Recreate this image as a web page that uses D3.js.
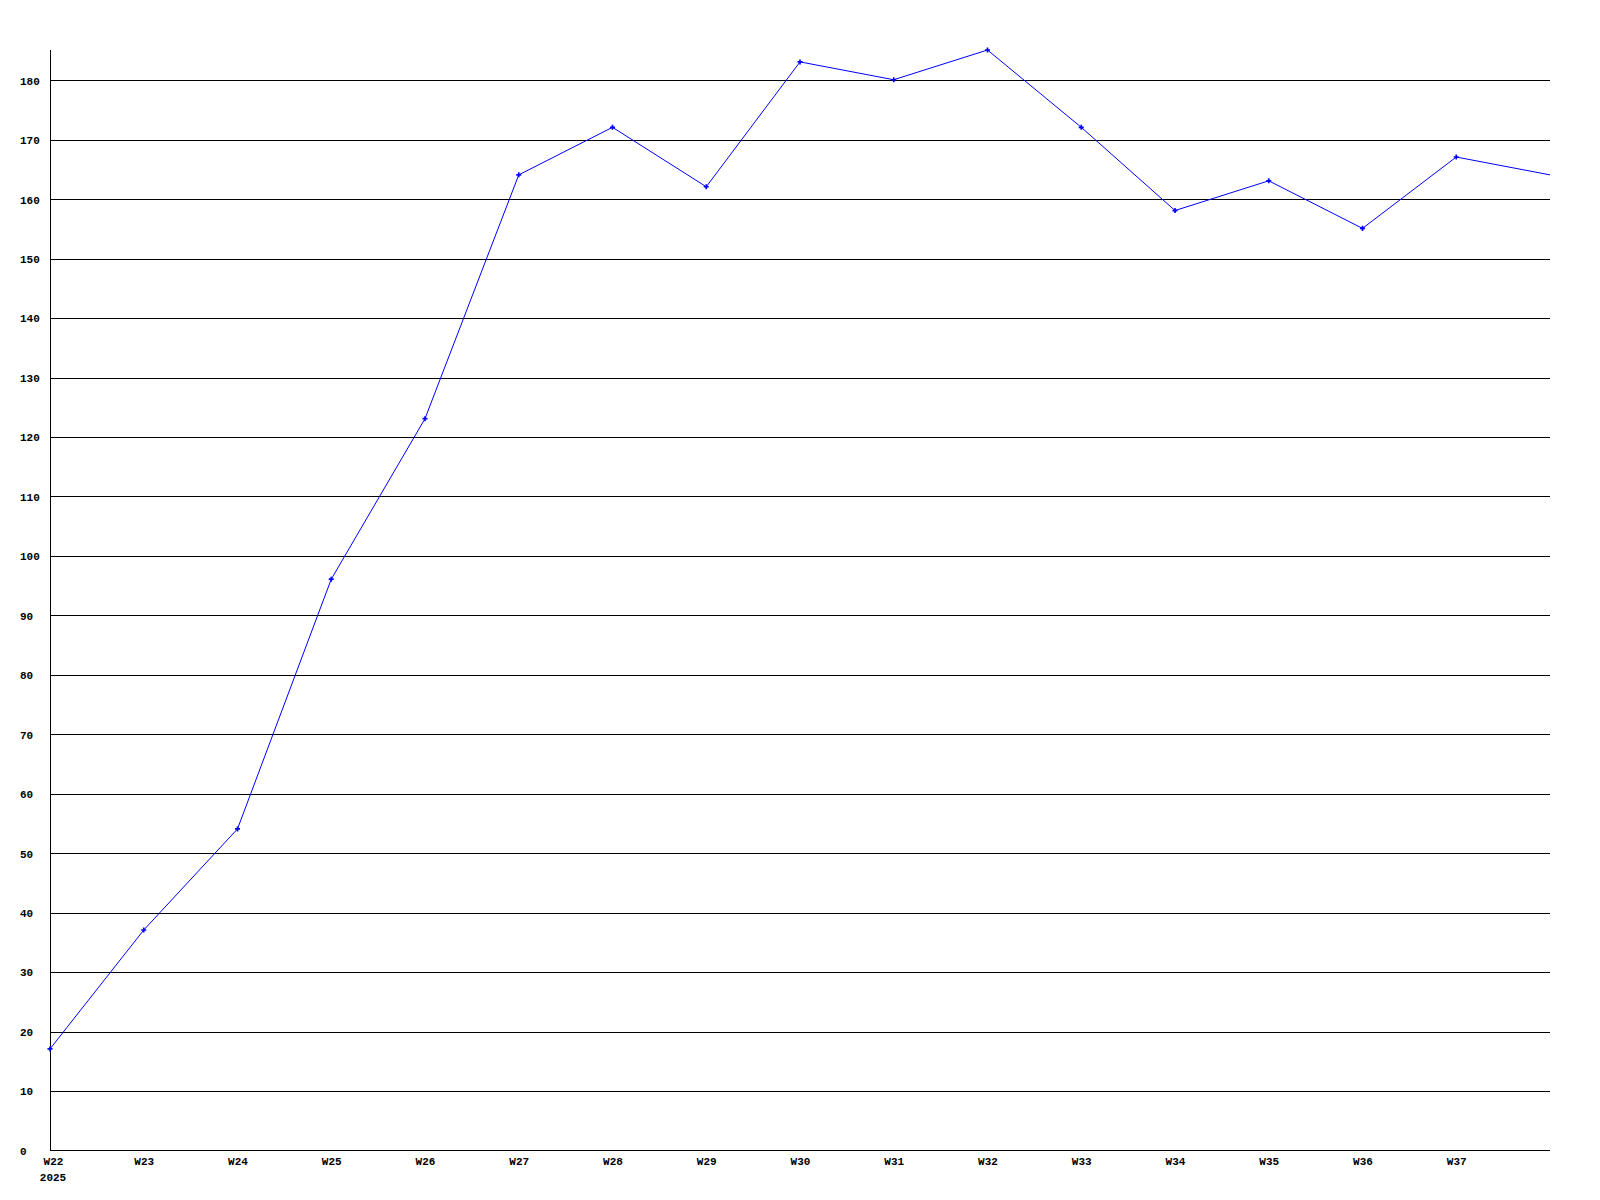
<!doctype html>
<html lang="en">
<head>
	<meta charset="UTF-8">
	<script src="https://cdn.jsdelivr.net/npm/d3@7"></script>
	<style>
	body{
		padding:0px;
		margin:0px;
		background:#fff;
	}
	text{
		font-family:"Liberation Mono","DejaVu Sans Mono",monospace;
		font-weight:bold;
		font-size:11px;
		fill:#000;
	}
	</style>
</head>
<body>
	<svg id="chartSvg"></svg>
	<script>
	// weekly values
	var weeks = ["W22","W23","W24","W25","W26","W27","W28","W29","W30","W31","W32","W33","W34","W35","W36","W37","W38"];
	var values = [17,37,54,96,123,164,172,162,183,180,185,172,158,163,155,167,164];
	var yTicks = [0,10,20,30,40,50,60,70,80,90,100,110,120,130,140,150,160,170,180];
	var yearLabel = "2025";

	var width = 1600, height = 1200;
	var pLeft = 50, pRight = 1550, pTop = 50, pBottom = 1150;

	var svg = d3.select("#chartSvg").attr("width", width).attr("height", height);

	var xScale = d3.scaleLinear().domain([0, weeks.length-1]).range([pLeft, pRight]);
	var yScale = d3.scaleLinear().domain([0, 185]).range([pBottom, pTop]);

	//grid + y labels
	var yAxis = svg.append("g")
		.attr("transform", "translate("+pLeft+",0.5)")
		.call(d3.axisLeft(yScale).tickValues(yTicks).tickSize(-(pRight-pLeft)).tickSizeOuter(0).tickPadding(0));
	yAxis.select(".domain").remove();
	yAxis.selectAll(".tick line")
		.attr("stroke", "#000")
		.attr("shape-rendering", "crispEdges")
		.filter(function(d){return d===0;}).remove();
	yAxis.selectAll(".tick text")
		.attr("x", -30)
		.attr("text-anchor", "start")
		.attr("dy", "0.35em");

	//x labels
	var xAxis = svg.append("g")
		.attr("transform", "translate(0,"+pBottom+")")
		.call(d3.axisBottom(xScale).tickValues(d3.range(weeks.length-1)).tickSize(0).tickPadding(0).tickFormat(function(i){return weeks[i];}));
	xAxis.select(".domain").remove();
	xAxis.selectAll(".tick text")
		.attr("y", 15)
		.attr("dy", 0)
		.attr("text-anchor", "middle")
		.attr("x", function(i){return i===0 ? 3 : 0;});
	svg.append("text")
		.attr("x", xScale(0)+3)
		.attr("y", pBottom+31)
		.attr("text-anchor", "middle")
		.text(yearLabel);

	//axis lines
	svg.append("line")
		.attr("x1", pLeft+0.5).attr("x2", pLeft+0.5)
		.attr("y1", pTop).attr("y2", pBottom+0.5)
		.attr("stroke", "#000");
	svg.append("line")
		.attr("x1", pLeft).attr("x2", pRight)
		.attr("y1", pBottom+0.5).attr("y2", pBottom+0.5)
		.attr("stroke", "#000");

	//data line
	var line = d3.line()
		.x(function(d,i){return xScale(i);})
		.y(function(d){return yScale(d);});
	svg.append("path")
		.datum(values)
		.attr("d", line)
		.attr("fill", "none")
		.attr("stroke", "#0000ff")
		.attr("stroke-width", 1);

	svg.append("g").selectAll("path")
		.data(values.slice(0, values.length-1))
		.join("path")
		.attr("transform", function(d,i){return "translate("+xScale(i)+","+yScale(d)+")";})
		.attr("d", d3.symbol().type(d3.symbolCross).size(14))
		.attr("fill", "#0000ff");
	</script>
</body>
</html>
